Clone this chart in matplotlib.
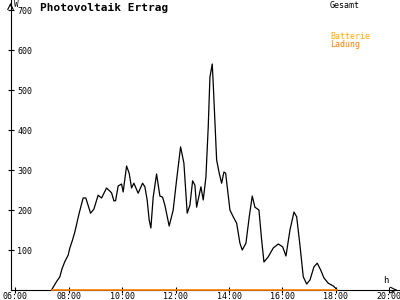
import matplotlib
matplotlib.use("Agg")
import matplotlib.pyplot as plt

# PV yield (W) over time of day (hours)
times = [7.356, 7.543, 7.667, 7.753, 7.854, 7.978, 8.041, 8.142, 8.228, 8.390,
         8.539, 8.640, 8.816, 8.940, 9.101, 9.228, 9.416, 9.603, 9.689, 9.753,
         9.850, 9.978, 10.037, 10.165, 10.262, 10.352, 10.438, 10.599, 10.764, 10.850,
         10.936, 11.011, 11.075, 11.161, 11.288, 11.412, 11.513, 11.599, 11.760, 11.910,
         12.037, 12.187, 12.311, 12.434, 12.536, 12.637, 12.723, 12.787, 12.948, 13.034,
         13.135, 13.221, 13.285, 13.371, 13.408, 13.536, 13.633, 13.723, 13.809, 13.873,
         14.034, 14.157, 14.285, 14.408, 14.494, 14.633, 14.757, 14.869, 14.970, 15.120,
         15.221, 15.307, 15.468, 15.655, 15.843, 16.007, 16.131, 16.281, 16.431, 16.532,
         16.655, 16.779, 16.906, 17.030, 17.180, 17.303, 17.431, 17.554, 17.715, 17.903,
         18.030]
gesamt = [0, 21, 33, 54, 71, 87, 105, 125, 145, 192,
          230, 230, 192, 202, 237, 230, 255, 243, 223, 223,
          260, 265, 245, 310, 292, 255, 267, 242, 267, 258,
          225, 175, 155, 232, 290, 235, 232, 212, 160, 200,
          275, 358, 317, 192, 212, 273, 262, 207, 258, 225,
          282, 407, 532, 565, 517, 325, 292, 267, 295, 292,
          200, 183, 167, 117, 100, 117, 183, 235, 207, 200,
          125, 70, 83, 105, 115, 108, 85, 150, 195, 183,
          112, 33, 15, 25, 58, 67, 50, 30, 17, 10,
          2]
batterie = [0] * len(times)

xticks = [6, 8, 10, 12, 14, 16, 18, 20]
xlabels = ["06:00", "08:00", "10:00", "12:00", "14:00", "16:00", "18:00", "20:00"]
yticks = [100, 200, 300, 400, 500, 600, 700]

fig = plt.figure(figsize=(4, 3), dpi=100)
ax = fig.add_axes([10.5 / 400, 10 / 300, (400 - 10.5) / 400, 290 / 300])
ax.set_xlim(5.82, 20.4)
ax.set_ylim(0, 725)

ax.plot(times, gesamt, color="black", lw=0.9)
ax.plot(times, batterie, color="#FF8000", lw=1.2, zorder=3, clip_on=False)

for s in ["top", "right"]:
    ax.spines[s].set_visible(False)
for s in ["left", "bottom"]:
    ax.spines[s].set_linewidth(0.8)
    ax.spines[s].set_color("black")

mono = "DejaVu Sans Mono"
ax.set_xticks(xticks)
ax.set_xticklabels(xlabels, fontsize=6, family=mono)
ax.set_yticks(yticks)
ax.set_yticklabels([str(v) for v in yticks], fontsize=6, family=mono)
ax.tick_params(axis="x", direction="inout", length=4.5, width=0.8, pad=-1)
ax.tick_params(axis="y", direction="inout", length=5, width=0.8, pad=-7.5)
for lbl in ax.get_yticklabels():
    lbl.set_horizontalalignment("left")

# arrows and unit labels
ax.annotate("", xy=(0, 1.0), xycoords="axes fraction", xytext=(0, 0.97),
            arrowprops=dict(arrowstyle="->", lw=0.8, color="black"))
ax.annotate("", xy=(1.0, 0), xycoords="axes fraction", xytext=(0.98, 0),
            arrowprops=dict(arrowstyle="->", lw=0.8, color="black"))
fig.text(13.5 / 400, 1 - 0 / 300, "W", fontsize=5.5, family=mono, va="top", ha="left")
fig.text(386 / 400, 1 - 276 / 300, "h", fontsize=6.5, family=mono, va="top", ha="center")

fig.text(40 / 400, 1 - 3 / 300, "Photovoltaik Ertrag", fontsize=8, family=mono,
         weight="bold", va="top", ha="left")
fig.text(330 / 400, 1 - 1 / 300, "Gesamt", fontsize=6, family=mono, va="top", ha="left")
fig.text(330 / 400, 1 - 32 / 300, "Batterie", fontsize=6, family=mono, va="top",
         ha="left", color="#FFAA00")
fig.text(330 / 400, 1 - 40 / 300, "Ladung", fontsize=6, family=mono, va="top",
         ha="left", color="#FF8000")

fig.savefig("out.png", dpi=100)
